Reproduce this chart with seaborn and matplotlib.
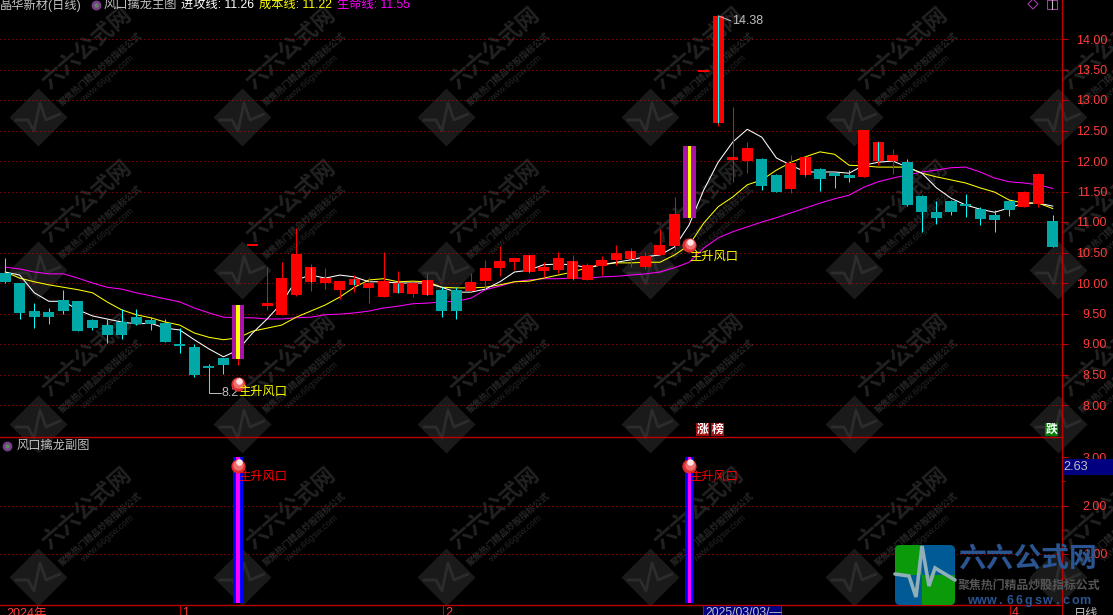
import pandas as pd
import matplotlib
matplotlib.use('Agg')
import matplotlib.pyplot as plt
from matplotlib.patches import FancyBboxPatch, Rectangle
import seaborn as sns

# K线数据 (开, 收, 高, 低)
opens = [10.16, 10.00, 9.54, 9.52, 9.72, 9.70, 9.39, 9.31, 9.36, 9.44, 9.39, 9.34, 9.00, 8.95, 8.64, 8.77,
         8.75, 10.61, 9.62, 9.48, 9.80, 10.02, 10.00, 9.89, 9.97, 9.92, 9.77, 9.84, 9.82, 9.80, 9.89, 9.89,
         9.87, 10.03, 10.25, 10.34, 10.18, 10.20, 10.21, 10.07, 10.05, 10.28, 10.38, 10.39, 10.26, 10.46,
         10.61, 11.07, 13.46, 12.62, 12.02, 12.00, 12.03, 11.77, 11.54, 11.77, 11.87, 11.80, 11.77, 11.74,
         12.00, 12.00, 11.98, 11.43, 11.16, 11.34, 11.30, 11.21, 11.11, 11.34, 11.25, 11.30, 11.02]
closes = [10.02, 9.51, 9.44, 9.44, 9.54, 9.21, 9.26, 9.15, 9.15, 9.33, 9.33, 9.03, 8.97, 8.49, 8.61, 8.66,
          9.64, 10.61, 9.67, 10.08, 10.48, 10.26, 10.08, 10.03, 10.07, 10.00, 10.03, 10.00, 10.00, 10.05,
          9.54, 9.54, 10.02, 10.25, 10.36, 10.41, 10.46, 10.26, 10.41, 10.36, 10.30, 10.38, 10.49, 10.52,
          10.44, 10.62, 11.13, 12.25, 13.46, 14.38, 12.07, 12.21, 11.59, 11.49, 11.97, 12.07, 11.70, 11.75,
          11.72, 12.51, 12.31, 12.10, 11.28, 11.16, 11.07, 11.16, 11.26, 11.05, 11.03, 11.20, 11.49, 11.79,
          10.59]
highs = [10.41, 10.00, 9.67, 9.59, 9.89, 9.70, 9.41, 9.41, 9.57, 9.57, 9.44, 9.41, 9.26, 9.00, 8.67, 8.77,
         9.64, 10.61, 10.26, 10.34, 10.90, 10.31, 10.25, 10.03, 10.13, 10.10, 10.51, 10.20, 10.02, 10.16,
         9.93, 9.93, 10.16, 10.38, 10.61, 10.41, 10.46, 10.34, 10.51, 10.46, 10.33, 10.44, 10.62, 10.57,
         10.51, 10.89, 11.41, 12.25, 13.46, 14.38, 12.89, 12.31, 12.05, 11.79, 12.10, 12.08, 11.89, 11.80,
         11.85, 12.51, 12.33, 12.20, 12.03, 11.44, 11.34, 11.36, 11.46, 11.25, 11.20, 11.36, 11.51, 11.80,
         11.11]
lows = [10.00, 9.41, 9.26, 9.33, 9.49, 9.21, 9.23, 9.02, 9.08, 9.31, 9.23, 9.03, 8.85, 8.46, 8.20, 8.51,
        8.66, 10.61, 9.56, 9.48, 9.79, 9.87, 9.90, 9.74, 9.85, 9.67, 9.77, 9.84, 9.77, 9.80, 9.44, 9.41,
        9.87, 9.90, 10.11, 10.21, 10.16, 10.10, 10.16, 10.05, 10.05, 10.13, 10.30, 10.26, 10.23, 10.46,
        10.54, 11.03, 13.46, 12.57, 11.66, 11.80, 11.52, 11.49, 11.48, 11.74, 11.51, 11.56, 11.66, 11.74,
        11.93, 11.79, 11.26, 10.84, 10.97, 11.11, 11.08, 10.95, 10.84, 11.10, 11.25, 11.25, 10.59]

# 三条均线
attack_line = [10.18, 10.13, 9.84, 9.70, 9.70, 9.56, 9.46, 9.41, 9.36, 9.33, 9.34, 9.26, 9.23, 9.07, 8.92,
               8.79, 8.90, 9.18, 9.41, 9.67, 10.05, 10.13, 10.08, 10.13, 10.10, 10.02, 10.02, 10.00, 10.00,
               10.00, 9.93, 9.85, 9.85, 9.90, 10.02, 10.18, 10.21, 10.30, 10.31, 10.30, 10.25, 10.30, 10.34,
               10.38, 10.43, 10.46, 10.59, 10.95, 11.52, 11.98, 12.31, 12.52, 12.39, 12.05, 11.93, 11.82,
               11.82, 11.82, 11.80, 11.93, 11.98, 12.00, 11.90, 11.80, 11.56, 11.39, 11.28, 11.21, 11.16,
               11.23, 11.31, 11.31, 11.26]
cost_line = [10.18, 10.08, 10.02, 9.97, 9.93, 9.89, 9.84, 9.69, 9.56, 9.48, 9.43, 9.36, 9.31, 9.18, 9.11,
             9.07, 9.10, 9.21, 9.26, 9.31, 9.44, 9.54, 9.64, 9.77, 9.93, 10.05, 10.07, 10.02, 10.03, 10.02,
             9.93, 9.92, 9.92, 9.93, 9.97, 10.02, 10.03, 10.08, 10.13, 10.18, 10.25, 10.30, 10.33, 10.33,
             10.34, 10.34, 10.46, 10.62, 10.98, 11.25, 11.41, 11.61, 11.69, 11.85, 11.98, 12.07, 12.15,
             12.11, 11.93, 11.92, 11.90, 11.90, 11.90, 11.80, 11.74, 11.69, 11.64, 11.56, 11.49, 11.36,
             11.31, 11.31, 11.22]
life_line = [10.26, 10.23, 10.18, 10.15, 10.15, 10.08, 10.00, 9.93, 9.90, 9.84, 9.79, 9.74, 9.69, 9.59, 9.51,
             9.44, 9.43, 9.43, 9.41, 9.41, 9.43, 9.44, 9.48, 9.49, 9.51, 9.54, 9.59, 9.62, 9.66, 9.67, 9.69,
             9.70, 9.75, 9.89, 9.95, 10.02, 10.05, 10.07, 10.07, 10.08, 10.08, 10.10, 10.11, 10.13, 10.15,
             10.18, 10.25, 10.34, 10.57, 10.74, 10.84, 10.92, 11.00, 11.07, 11.15, 11.23, 11.31, 11.38, 11.44,
             11.57, 11.66, 11.72, 11.77, 11.82, 11.85, 11.89, 11.90, 11.82, 11.72, 11.66, 11.64, 11.61, 11.55]

# 信号
signal_bars = [16, 47]
signal_value = 3.0
cyan_mid_bars = [21, 24, 27, 29, 36, 39, 43, 49, 55, 60]
ball_prices = [8.34, 10.62]
label_prices = [8.21, 10.43]
sub_ball_value = 2.81
sub_label_value = 2.59
price_ticks = [14.0, 13.5, 13.0, 12.5, 12.0, 11.5, 11.0, 10.5, 10.0, 9.5, 9.0, 8.5, 8.0]
sub_ticks = [3.0, 2.0, 1.0]
sub_grid = [2.0, 1.0]
last_sub_value = '2.63'

RED = '#FF0000'
TEAL = '#00A8A8'
CYAN = '#00FFFF'
AXIS_RED = '#C00000'
LABEL_RED = '#FF3C3C'
GREY = '#C0C0C0'

sns.set_theme(style='dark', rc={'figure.facecolor': 'black', 'axes.facecolor': 'black', 'axes.grid': False})
plt.rcParams['font.family'] = ['Liberation Sans', 'Noto Sans CJK SC', 'DejaVu Sans']
plt.rcParams['axes.unicode_minus'] = False

W, H = 1113, 615
fig = plt.figure(figsize=(W / 100, H / 100), dpi=100)


def pixel_axes(zorder):
    a = fig.add_axes([0, 0, 1, 1], zorder=zorder, facecolor='none')
    a.set_xlim(0, W)
    a.set_ylim(H, 0)
    a.axis('off')
    return a


def draw_ball(a, x, y, dy):
    a.scatter([x], [y], s=105, color='#E02C2C', linewidths=0, zorder=7)
    a.scatter([x + 0.03], [y + dy * 0.4], s=55, color='#F07070', linewidths=0, zorder=7)
    a.scatter([x + 0.05], [y + dy], s=22, color='#FFE4E4', linewidths=0, zorder=7)


# 水印
bg = pixel_axes(0)
bg.set_facecolor('black')
for cy in [-36, 117, 270, 424, 577]:
    for cx in [38, 242, 446, 650, 854, 1058]:
        bg.scatter([cx], [cy], marker='D', s=872, color='#1a1a1a', linewidths=0)
        bg.plot([cx - 22, cx - 10, cx - 4, cx + 2, cx + 8, cx + 22], [cy + 3, cy + 3, cy + 14, cy - 14, cy + 3, cy - 3],
                color='#2c2c2c', lw=2)
        bg.text(cx + 49, cy - 68, '六六公式网', color='#222222', fontsize=16, fontweight='bold', rotation=41,
                ha='center', va='center', rotation_mode='anchor')
        bg.text(cx + 62, cy - 48, '聚焦热门精品炒股指标公式', color='#262626', fontsize=6.4, fontweight='bold', rotation=41,
                ha='center', va='center', rotation_mode='anchor')
        bg.text(cx + 69, cy - 38, 'www.66gsw.com', color='#262626', fontsize=6.5, rotation=41,
                ha='center', va='center', rotation_mode='anchor')

# 主图
ax = fig.add_axes([0, (H - 437) / H, 1062 / W, 437 / H], zorder=2, facecolor='none')
df = pd.DataFrame({'bar': range(len(opens)), 'open': opens, 'close': closes, 'high': highs, 'low': lows,
                   'attack': attack_line, 'cost': cost_line, 'life': life_line})

for level in price_ticks:
    ax.axhline(level, color='#D80000', lw=0.72, ls=(0, (1, 3)), zorder=1)

sns.lineplot(data=df, x='bar', y='life', color='#FF00FF', lw=0.75, ax=ax, estimator=None, legend=False, zorder=2)
sns.lineplot(data=df, x='bar', y='cost', color='#FFFF00', lw=0.75, ax=ax, estimator=None, legend=False, zorder=2)
sns.lineplot(data=df, x='bar', y='attack', color='white', lw=0.75, ax=ax, estimator=None, legend=False, zorder=2)

for _, row in df.iterrows():
    i = int(row['bar'])
    up = row['close'] >= row['open']
    top = max(row['open'], row['close'])
    bottom = min(row['open'], row['close'])
    ax.vlines(i, row['low'], row['high'], color=RED if up else CYAN, lw=0.75, zorder=3)
    if i in signal_bars:
        ax.bar(i, top - bottom, bottom=bottom, width=0.89, color='#A814A8', linewidth=0, zorder=4)
        ax.bar(i, top - bottom, bottom=bottom, width=0.21, color='#FFFF00', linewidth=0, zorder=5)
    else:
        ax.bar(i, max(top - bottom, 0.025), bottom=bottom, width=0.76, color=RED if up else TEAL, linewidth=0, zorder=4)
    if i in cyan_mid_bars:
        ax.vlines(i, bottom, top, color=CYAN, lw=0.75, zorder=5)

for i, ball, lab in zip(signal_bars, ball_prices, label_prices):
    draw_ball(ax, i, ball, 0.05)
    ax.text(i, lab, '主升风口', color='#FFFF00', fontsize=8.8, va='center', ha='left', zorder=8)

# 最高最低标注
ax.plot([14, 14.85], [lows[14], lows[14]], color=GREY, lw=0.7, zorder=6)
ax.text(14.9, lows[14], '8.2', color=GREY, fontsize=9, va='center', ha='left', zorder=6)
ax.plot([49, 49.85], [14.38, 14.3], color=GREY, lw=0.7, zorder=6)
ax.text(49.95, 14.3, '14.38', color=GREY, fontsize=9, va='center', ha='left', zorder=6)

ax.set_xlim(-0.357, 72.63)
ax.set_ylim(8 - 32 / 61, 8 + 405 / 61)
ax.set_xlabel('')
ax.set_ylabel('')
ax.set_xticks([])
ax.yaxis.tick_right()
ax.set_yticks(price_ticks)
ax.set_yticklabels([f'{v:.2f}' for v in price_ticks], ha='right')
ax.tick_params(axis='y', colors=AXIS_RED, labelcolor=LABEL_RED, labelsize=9, length=4, width=0.8, pad=28.4,
               right=True, left=False)
for side in ['top', 'left']:
    ax.spines[side].set_visible(False)
for side in ['right', 'bottom']:
    ax.spines[side].set_color(AXIS_RED)
    ax.spines[side].set_linewidth(1)

# 副图
ax2 = fig.add_axes([0, (H - 605) / H, 1062 / W, 168 / H], zorder=2, facecolor='none')
signal = [signal_value if i in signal_bars else 0.0 for i in range(len(opens))]
sub_df = pd.DataFrame({'bar': range(len(opens)), 'signal': signal})
for level in sub_grid:
    ax2.axhline(level, color='#D80000', lw=0.72, ls=(0, (1, 3)), zorder=1)
sns.barplot(data=sub_df, x='bar', y='signal', native_scale=True, width=0.62, color='#0000FF', saturation=1,
            errorbar=None, linewidth=0, ax=ax2, zorder=3)
sns.barplot(data=sub_df, x='bar', y='signal', native_scale=True, width=0.21, color='#FF00FF', saturation=1,
            errorbar=None, linewidth=0, ax=ax2, zorder=4)
for i in signal_bars:
    draw_ball(ax2, i, sub_ball_value, 0.08)
    ax2.text(i, sub_label_value, '主升风口', color='#FF0000', fontsize=8.8, va='center', ha='left', zorder=8)
ax2.set_xlim(-0.357, 72.63)
ax2.set_ylim(-2.5 / 48.5, 165.5 / 48.5)
ax2.set_xlabel('')
ax2.set_ylabel('')
ax2.set_xticks([])
ax2.yaxis.tick_right()
ax2.set_yticks(sub_ticks)
ax2.set_yticklabels([f'{v:.2f}' for v in sub_ticks], ha='right')
ax2.set_yticks([2.5, 1.5, 0.5], minor=True)
ax2.tick_params(axis='y', colors=AXIS_RED, labelcolor=LABEL_RED, labelsize=9, length=4, width=0.8, pad=28.4,
                right=True, left=False)
ax2.tick_params(axis='y', which='minor', colors=AXIS_RED, length=2, width=0.8, right=True, left=False)
for side in ['top', 'left']:
    ax2.spines[side].set_visible(False)
for side in ['right', 'bottom']:
    ax2.spines[side].set_color(AXIS_RED)
    ax2.spines[side].set_linewidth(1)

# 文字和角标
top = pixel_axes(5)
top.set_clip_on(False)


def header(x, y, s, color):
    top.text(x, y, s, color=color, fontsize=8.8, va='center', ha='left')


header(0, 5, '晶华新材(日线)', GREY)
top.scatter([96, 7], [5, 446], s=50, color='#7A3C8C', linewidths=0)
top.scatter([96, 7], [5, 446], s=10, color='#5A8C5A', linewidths=0)
header(104, 5, '风口擒龙主图', GREY)
header(181, 5, '进攻线: 11.26', 'white')
header(259, 5, '成本线: 11.22', '#FFFF00')
header(337, 5, '生命线: 11.55', '#FF00FF')
header(17, 446, '风口擒龙副图', GREY)

top.scatter([1033], [4], marker='D', s=26, facecolor='none', edgecolor='#A03CA0', linewidths=0.8)
top.add_patch(Rectangle((1047, 0), 10, 9, facecolor='none', edgecolor='#A03CA0', lw=0.8))
top.plot([1052, 1052], [0, 9], color='#C0C0C0', lw=0.8)

for x, s, c in [(696, '涨', '#A01010'), (711, '榜', '#A01010'), (1045, '跌', '#008000')]:
    top.add_patch(Rectangle((x, 423), 13, 13, facecolor=c, edgecolor='none'))
    top.text(x + 6.5, 429.5, s, color='white', fontsize=8.5, ha='center', va='center', fontweight='bold')

top.add_patch(Rectangle((1063, 459), 50, 16, facecolor='#000080', edgecolor='none'))
top.text(1063, 467, last_sub_value, color=GREY, fontsize=9.2, va='center', ha='left')

# 底部时间轴
top.text(6, 607.5, '2024年', color=LABEL_RED, fontsize=9, va='top', ha='left')
for x, s in [(180, '1'), (443, '2'), (1010, '4')]:
    top.plot([x, x], [605, 615], color=AXIS_RED, lw=0.8)
    top.text(x + 2, 607.5, s, color=LABEL_RED, fontsize=9, va='top', ha='left')
top.add_patch(Rectangle((702.5, 605), 78, 11, facecolor='#000080', edgecolor=AXIS_RED, lw=0.8))
top.text(705, 607.5, '2025/03/03/—', color=GREY, fontsize=8.8, va='top', ha='left')
top.text(1074, 607.5, '日线', color=GREY, fontsize=8.8, va='top', ha='left')
top.plot([1062, 1062], [605, 615], color=AXIS_RED, lw=0.8)

# 右下角logo
logo = FancyBboxPatch((898, 548), 54, 54, boxstyle='round,pad=3,rounding_size=5', facecolor='#005A96', edgecolor='none')
top.add_patch(logo)
for (x, y, w, h, c) in [(895, 545, 27, 30, '#0A9A0A'), (922, 575, 33, 30, '#0A9A0A')]:
    r = Rectangle((x, y), w, h, facecolor=c, edgecolor='none')
    top.add_patch(r)
    r.set_clip_path(logo)
top.plot([895, 909, 916, 922, 929, 935, 955], [574, 576, 597, 546, 586, 568, 580], color='#8FB0B8', lw=2.6, solid_joinstyle='miter')
top.text(958, 560, '六六公式网', color='#2A5590', fontsize=20, fontweight='bold', va='center', ha='left')
top.text(958, 586, '聚焦热门精品炒股指标公式', color='#555555', fontsize=8.6, fontweight='bold', va='center', ha='left')
for k, ch in enumerate('www.66gsw.com'):
    top.text(972 + k * 9.4, 601, ch, color='#2A5590', fontsize=9, fontweight='bold', va='center', ha='center')

fig.savefig('out.png', dpi=100, facecolor='black')
